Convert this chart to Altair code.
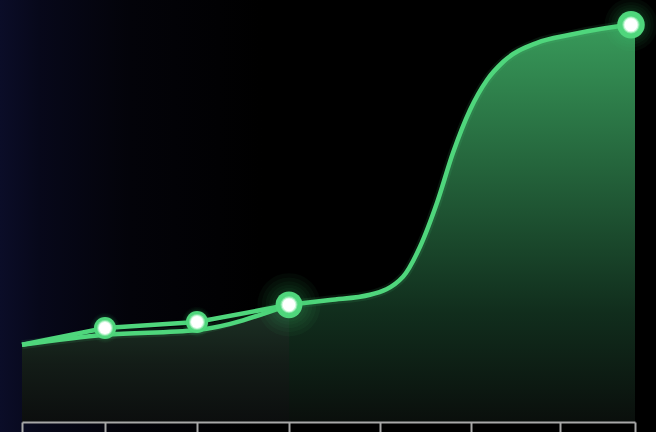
import altair as alt
import pandas as pd

# ---- data ----
AXIS_TICKS = [0, 83, 175, 267, 358, 449, 538, 613]
CURVE_X = [0, 83, 175, 267, 308, 348, 381, 398, 415, 431, 448, 465, 481, 515, 548, 609, 613]
CURVE_Y = [19.3, 21.8, 23.0, 29.3, 30.5, 31.8, 36.3, 43.8, 54.8, 67.3, 78.0, 85.5, 90.0, 94.8, 96.8, 99.3, 99.4]
PATH_X = [0, 83, 175, 267]
PATH_Y = [19.3, 23.5, 25.0, 29.3]
POINT_X = [83, 175, 267, 609]
POINT_Y = [23.5, 25.0, 29.3, 99.3]

curve = pd.DataFrame({"x": CURVE_X, "y": CURVE_Y})
path = pd.DataFrame({"x": PATH_X, "y": PATH_Y})
points = pd.DataFrame({"x": POINT_X, "y": POINT_Y})

GREEN = "#4fd67c"
xs = alt.Scale(domain=[0, 613], nice=False, zero=False)
ys = alt.Scale(domain=[0, 105.5], nice=False, zero=False)
X = alt.X("x:Q", scale=xs, axis=alt.Axis(values=AXIS_TICKS, labels=False, title=None, grid=False,
                                          domainColor="#a8a8a8", domainWidth=2, tickColor="#a8a8a8",
                                          tickWidth=2, tickSize=10, zindex=2))
Y = alt.Y("y:Q", scale=ys, axis=None)

bg = alt.Chart(alt.Data(values=[{}])).mark_rect(
    color=alt.Gradient(gradient="linear", x1=0, y1=0, x2=1, y2=0,
                       stops=[alt.GradientStop(color="#0b0d28", offset=0),
                              alt.GradientStop(color="#07081a", offset=0.06),
                              alt.GradientStop(color="#030309", offset=0.2),
                              alt.GradientStop(color="#000000", offset=0.4),
                              alt.GradientStop(color="#000000", offset=1)])
).encode(x=alt.value(-22), x2=alt.value(634), y=alt.value(0), y2=alt.value(432))

left_area = alt.Chart(curve).transform_filter(alt.datum.x <= 267).mark_area(
    interpolate="monotone",
    color=alt.Gradient(gradient="linear", x1=0, y1=0, x2=0, y2=1,
                       stops=[alt.GradientStop(color="#1d3326", offset=0),
                              alt.GradientStop(color="#131c17", offset=0.5),
                              alt.GradientStop(color="#0c0e0e", offset=1)])
).encode(x=X, y=Y)

right_area = alt.Chart(curve).transform_filter(alt.datum.x >= 267).mark_area(
    interpolate="monotone",
    color=alt.Gradient(gradient="linear", x1=0, y1=0, x2=0, y2=1,
                       stops=[alt.GradientStop(color="#389a5a", offset=0),
                              alt.GradientStop(color="#225e38", offset=0.4),
                              alt.GradientStop(color="#112e1d", offset=0.72),
                              alt.GradientStop(color="#0a0f0c", offset=1)])
).encode(x=X, y=Y)

line_glow = alt.Chart(curve).mark_line(interpolate="monotone", color=GREEN, strokeWidth=9,
                                       opacity=0.1).encode(x=X, y=Y)
path_line = alt.Chart(path).mark_line(color=GREEN, strokeWidth=4.5).encode(x=X, y=Y)
curve_left = alt.Chart(curve).transform_filter(alt.datum.x <= 267).mark_line(
    interpolate="monotone", color=GREEN, strokeWidth=4.5).encode(x=X, y=Y)
curve_right = alt.Chart(curve).transform_filter(alt.datum.x >= 267).mark_line(
    interpolate="monotone", color=GREEN, strokeWidth=4.5).encode(x=X, y=Y)

big = alt.datum.x == 267
last = alt.datum.x == 609


def sz(a, b, c):
    return alt.when(big).then(alt.value(a)).when(last).then(alt.value(b)).otherwise(alt.value(c))


glows = []
for a, b, c in [(4000, 2800, 900), (3000, 2100, 750), (2200, 1600, 650), (1600, 1200, 560), (1150, 950, 500)]:
    glows.append(alt.Chart(points).mark_circle(color=GREEN, opacity=0.045).encode(x=X, y=Y, size=sz(a, b, c)))

ring = alt.Chart(points).mark_circle(color=GREEN, opacity=1).encode(x=X, y=Y, size=sz(720, 760, 490))
halo1 = alt.Chart(points).mark_circle(color="#b8f5cc", opacity=0.5).encode(x=X, y=Y, size=sz(290, 300, 260))
halo2 = alt.Chart(points).mark_circle(color="#e8fff0", opacity=0.75).encode(x=X, y=Y, size=sz(220, 230, 195))
core = alt.Chart(points).mark_circle(color="#ffffff", opacity=1).encode(x=X, y=Y, size=sz(160, 170, 140))

chart = alt.layer(bg, left_area, right_area, line_glow, path_line, curve_left, curve_right,
                  *glows, ring, halo1, halo2, core).properties(
    width=613, height=422,
    autosize=alt.AutoSizeParams(type="none"),
    padding={"left": 22, "top": 0, "right": 21, "bottom": 10},
    background="#000000",
).configure_view(stroke=None)

chart.save("out.html", embed_options={"renderer": "svg", "actions": False})
